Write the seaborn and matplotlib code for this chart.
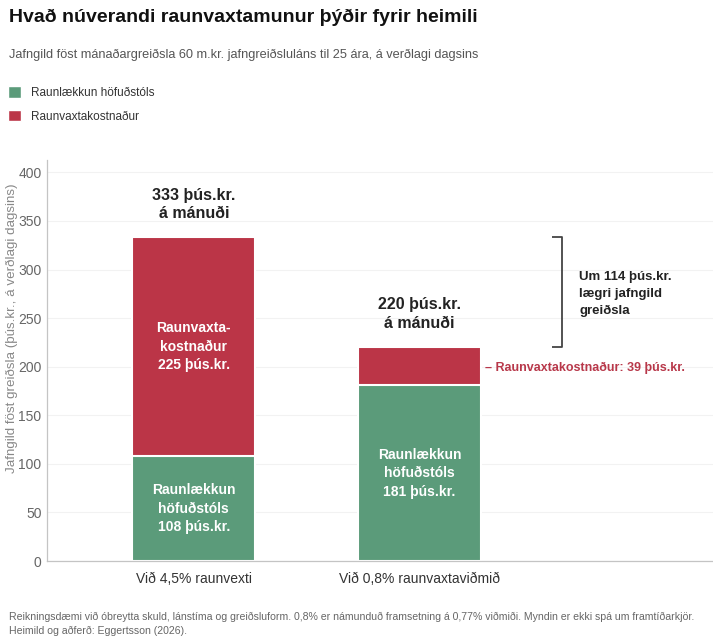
import matplotlib
matplotlib.use("Agg")
import matplotlib.pyplot as plt
import seaborn as sns
import pandas as pd
from matplotlib.patches import Patch

# chart values
scenarios = ["Við 4,5% raunvexti", "Við 0,8% raunvaxtaviðmið"]
principal = [108, 181]   # Raunlækkun höfuðstóls
interest = [225, 39]     # Raunvaxtakostnaður
totals = [333, 220]      # rounded totals as printed
difference = 114         # printed difference (unrounded values)
yticks = [0, 50, 100, 150, 200, 250, 300, 350, 400]

GREEN = "#5b9b7a"
RED = "#bb3547"

sns.set_theme(style="white")
plt.rcParams["font.family"] = ["Liberation Sans", "DejaVu Sans"]

df = pd.DataFrame({"scenario": scenarios, "principal": principal,
                   "interest": interest, "total": totals})

fig = plt.figure(figsize=(7.13, 6.39), dpi=100)
ax = fig.add_axes([0.066, 0.122, 0.934, 0.628])

# stacked bars: total in red, principal in green on top
sns.barplot(data=df, x="scenario", y="total", color=RED, width=0.545,
            edgecolor="white", linewidth=1.5, saturation=1, ax=ax)
sns.barplot(data=df, x="scenario", y="principal", color=GREEN, width=0.545,
            edgecolor="white", linewidth=1.5, saturation=1, ax=ax)

ax.set_xlim(-0.65, 2.3)
ax.set_ylim(0, 413)
ax.set_yticks(yticks)
ax.yaxis.grid(True, color="#f2f2f2", linewidth=0.8)
ax.set_axisbelow(True)
for s in ["top", "right"]:
    ax.spines[s].set_visible(False)
for s in ["left", "bottom"]:
    ax.spines[s].set_color("#c4c4c4")
    ax.spines[s].set_linewidth(0.9)
ax.tick_params(axis="y", length=0, labelsize=10, labelcolor="#666666", pad=4)
ax.tick_params(axis="x", length=0, labelsize=10, labelcolor="#333333", pad=8)
ax.set_xlabel("")
ax.set_ylabel("Jafngild föst greiðsla (þús.kr., á verðlagi dagsins)",
              fontsize=9.6, color="#888888")
ax.yaxis.set_label_coords(-0.044, 0.58)

# labels above bars
for i, t in enumerate(totals):
    ax.text(i, t + 34, f"{t} þús.kr.\ná mánuði", ha="center", va="center",
            fontsize=11.5, fontweight="bold", color="#222222", linespacing=1.3)

# labels inside segments
ax.text(0, principal[0] + interest[0] / 2,
        f"Raunvaxta-\nkostnaður\n{interest[0]} þús.kr.", ha="center", va="center",
        fontsize=10, fontweight="bold", color="white", linespacing=1.4)
for i, p in enumerate(principal):
    ax.text(i, p / 2, f"Raunlækkun\nhöfuðstóls\n{p} þús.kr.", ha="center",
            va="center", fontsize=10, fontweight="bold", color="white",
            linespacing=1.4)

# small interest label for second bar
ax.text(1.29, principal[1] + interest[1] / 2 - 2,
        f"– Raunvaxtakostnaður: {interest[1]} þús.kr.", ha="left", va="center",
        fontsize=9, fontweight="bold", color="#b8384a")

# bracket for the difference
bx, btick = 1.633, 0.045
ax.plot([bx - btick, bx, bx, bx - btick], [totals[0], totals[0], totals[1], totals[1]],
        color="#444444", linewidth=1.3, solid_capstyle="butt")
ax.text(bx + 0.075, (totals[0] + totals[1]) / 2 - 2,
        f"Um {difference} þús.kr.\nlægri jafngild\ngreiðsla", ha="left", va="center",
        fontsize=9.5, fontweight="bold", color="#222222", linespacing=1.55)

# title, subtitle, legend, footer
fig.text(0.012, 0.972, "Hvað núverandi raunvaxtamunur þýðir fyrir heimili",
         fontsize=14, fontweight="bold", color="#111111", va="center")
fig.text(0.012, 0.914, "Jafngild föst mánaðargreiðsla 60 m.kr. jafngreiðsluláns til 25 ára, á verðlagi dagsins",
         fontsize=9.2, color="#555555", va="center")
handles = [Patch(facecolor=GREEN, label="Raunlækkun höfuðstóls"),
           Patch(facecolor=RED, label="Raunvaxtakostnaður")]
fig.legend(handles=handles, loc="upper left", bbox_to_anchor=(0.0, 0.878),
           frameon=False, fontsize=8.5, handlelength=1.1, handleheight=1.1,
           handletextpad=0.8, labelspacing=0.95, borderaxespad=0.3,
           labelcolor="#333333")
fig.text(0.012, 0.034,
         "Reikningsdæmi við óbreytta skuld, lánstíma og greiðsluform. 0,8% er námunduð framsetning á 0,77% viðmiði. Myndin er ekki spá um framtíðarkjör.",
         fontsize=7.6, color="#666666", va="center")
fig.text(0.012, 0.012, "Heimild og aðferð: Eggertsson (2026).",
         fontsize=7.6, color="#666666", va="center")

fig.savefig("out.png", dpi=100)
